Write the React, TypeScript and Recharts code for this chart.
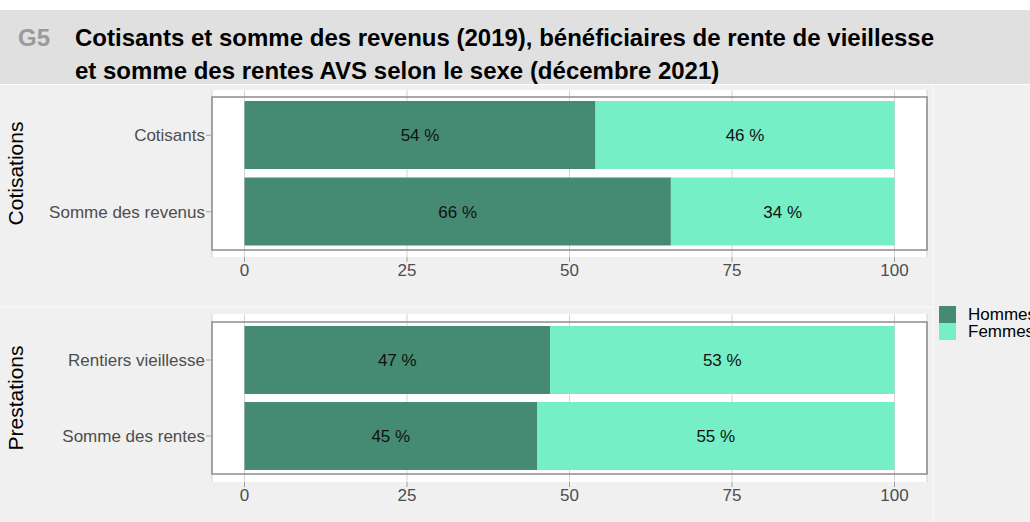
import {
	Bar,
	BarChart,
	CartesianGrid,
	LabelList,
	ReferenceArea,
	XAxis,
	YAxis,
} from "recharts";

const FONT = "'Liberation Sans', Arial, sans-serif";

// data (in %)
const cotCategories = ["Cotisants", "Somme des revenus"];
const cotHommes = [54, 65.6];
const cotFemmes = [46, 34.4];

const prestCategories = ["Rentiers vieillesse", "Somme des rentes"];
const prestHommes = [47, 45];
const prestFemmes = [53, 55];

const xTicks = [0, 25, 50, 75, 100];
const seriesNames = ["Hommes", "Femmes"];
const seriesColors = ["#458B74", "#76EEC6"];

interface PanelProps {
	facet: string;
	categories: string[];
	hommes: number[];
	femmes: number[];
	height: number;
	top: number;
	plotH: number;
	pad: number;
}

function FacetLabel(props: any) {
	const vb = props.viewBox || {};
	const x = 15;
	const y = (vb.y ?? 0) + (vb.height ?? 0) / 2;
	return (
		<text
			x={x}
			y={y}
			transform={`rotate(-90 ${x} ${y})`}
			textAnchor="middle"
			dominantBaseline="central"
			fontSize={21}
			fill="#000"
			fontFamily={FONT}
		>
			{props.text}
		</text>
	);
}

const pct = (v: any) => `${Math.round(Number(v))} %`;

function Panel(props: PanelProps) {
	const data = props.categories.map((c, i) => ({
		name: c,
		hommes: props.hommes[i],
		femmes: props.femmes[i],
	}));
	return (
		<BarChart
			width={932}
			height={props.height}
			data={data}
			layout="vertical"
			margin={{ top: props.top, right: 5, left: 0, bottom: 0 }}
			barSize={68}
			style={{ fontFamily: FONT }}
		>
			<CartesianGrid horizontal={false} stroke="#d4d4d4" fill="#ffffff" />
			<XAxis
				type="number"
				domain={[-5, 105]}
				allowDataOverflow
				ticks={xTicks}
				axisLine={false}
				tickSize={5}
				tickLine={{ stroke: "#a0a0a0" }}
				tick={{ fill: "#4d4d4d", fontSize: 17 }}
				height={props.height - props.top - props.plotH}
			/>
			<YAxis
				type="category"
				dataKey="name"
				width={212}
				padding={{ top: props.pad, bottom: props.pad }}
				axisLine={false}
				tickSize={6}
				tickMargin={1}
				tickLine={{ stroke: "#a0a0a0" }}
				tick={{ fill: "#4d4d4d", fontSize: 17 }}
				label={{ content: <FacetLabel text={props.facet} /> }}
			/>
			<Bar dataKey="hommes" stackId="s" fill={seriesColors[0]} isAnimationActive={false}>
				<LabelList dataKey="hommes" position="center" fill="#111" fontSize={17} formatter={pct} />
			</Bar>
			<Bar dataKey="femmes" stackId="s" fill={seriesColors[1]} isAnimationActive={false}>
				<LabelList dataKey="femmes" position="center" fill="#111" fontSize={17} formatter={pct} />
			</Bar>
			<ReferenceArea
				x1={-5}
				x2={105}
				fill="none"
				stroke="#8c8c8c"
				strokeWidth={1.5}
				ifOverflow="visible"
			/>
		</BarChart>
	);
}

export default function App() {
	return (
		<div
			style={{
				position: "absolute",
				left: 0,
				top: 0,
				width: 1030,
				height: 522,
				background: "#ffffff",
				overflow: "hidden",
				fontFamily: FONT,
			}}
		>
			<div
				style={{
					position: "absolute",
					left: 0,
					top: 10,
					width: 1030,
					height: 74,
					background: "#e0e0e0",
				}}
			>
				<div
					style={{
						position: "absolute",
						left: 18,
						top: 11,
						fontSize: 24,
						fontWeight: "bold",
						color: "#9a9a9a",
						lineHeight: "33px",
					}}
				>
					G5
				</div>
				<div
					style={{
						position: "absolute",
						left: 75,
						top: 11,
						fontSize: 24,
						fontWeight: "bold",
						color: "#000",
						lineHeight: "33px",
						whiteSpace: "nowrap",
					}}
				>
					Cotisants et somme des revenus (2019), bénéficiaires de rente de vieillesse
					<br />
					et somme des rentes AVS selon le sexe (décembre 2021)
				</div>
			</div>
			<div style={{ position: "absolute", left: 0, top: 85, width: 1030, height: 437, background: "#f0f0f0" }} />
			<div style={{ position: "absolute", left: 0, top: 306, width: 933, height: 2, background: "#f6f6f6" }} />
			<div style={{ position: "absolute", left: 932, top: 85, width: 2, height: 437, background: "#f6f6f6" }} />
			<div style={{ position: "absolute", left: 0, top: 85 }}>
				<Panel
					facet="Cotisations"
					categories={cotCategories}
					hommes={cotHommes}
					femmes={cotFemmes}
					height={221}
					top={5}
					plotH={167}
					pad={7}
				/>
			</div>
			<div style={{ position: "absolute", left: 0, top: 308 }}>
				<Panel
					facet="Prestations"
					categories={prestCategories}
					hommes={prestHommes}
					femmes={prestFemmes}
					height={214}
					top={6}
					plotH={168}
					pad={8}
				/>
			</div>
			<div style={{ position: "absolute", left: 939, top: 306 }}>
				{seriesNames.map((n, i) => (
					<div key={n} style={{ display: "flex", alignItems: "center", height: 17 }}>
						<div style={{ width: 17, height: 17, background: seriesColors[i] }} />
						<span style={{ marginLeft: 12, fontSize: 17, color: "#000", whiteSpace: "nowrap" }}>{n}</span>
					</div>
				))}
			</div>
		</div>
	);
}
